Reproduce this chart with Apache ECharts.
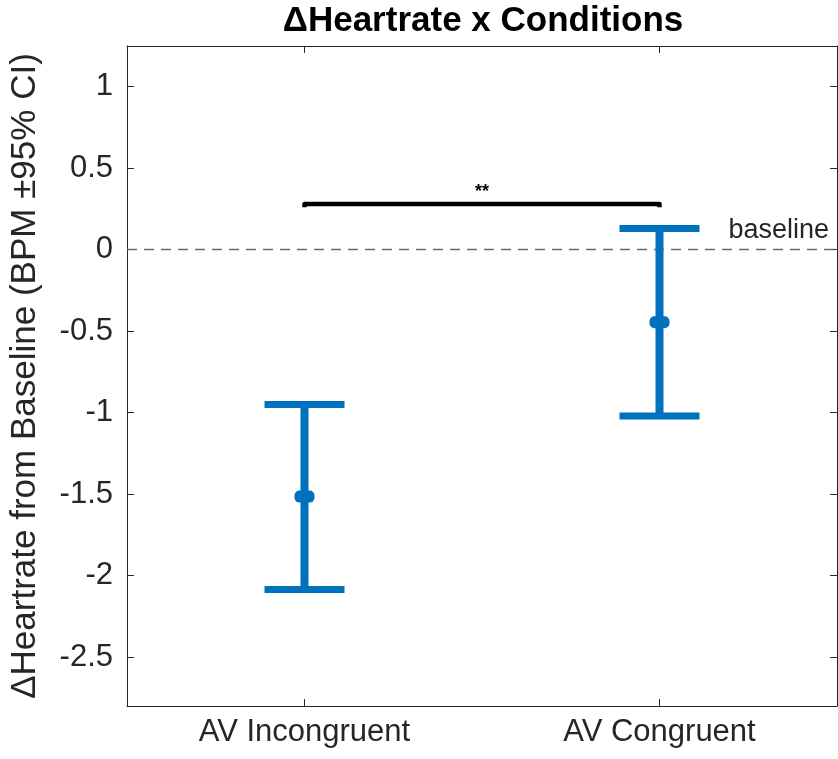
<!DOCTYPE html>
<html>
<head>
<meta charset="utf-8">
<script src="https://cdn.jsdelivr.net/npm/echarts@6/dist/echarts.min.js"></script>
<style>
html,body{margin:0;padding:0;background:#fff;}
#chart{width:838px;height:759px;}
</style>
</head>
<body>
<div id="chart"></div>
<script>
const categories = ['AV Incongruent', 'AV Congruent'];
const means = [-1.515, -0.445];
const lowerCI = [-2.085, -1.02];
const upperCI = [-0.95, 0.13];
const yTicks = [-2.5, -2, -1.5, -1, -0.5, 0, 0.5, 1];
const bracket = [[0, 1, 0.28, 0.26]];
const sigLabel = '**';
const baselineValue = 0;

const blue = '#0072BD';
const axisColor = '#262626';
const fontFam = 'Liberation Sans, Arial, Helvetica, sans-serif';

const ebData = categories.map((c, i) => [i, lowerCI[i], upperCI[i], means[i]]);

const chart = echarts.init(document.getElementById('chart'), null, {renderer: 'canvas'});

const yCommon = {
  type: 'value', min: -2.8, max: 1.25,
  splitLine: {show: false},
  axisLine: {show: true, onZero: false, lineStyle: {color: axisColor, width: 1}}
};

chart.setOption({
  backgroundColor: '#fff',
  animation: false,
  graphic: [{
    type: 'text', x: 483, y: 4,
    style: {text: '\u0394Heartrate x Conditions', font: 'bold 35px ' + fontFam, fill: '#000', textAlign: 'center', textVerticalAlign: 'top'}
  }],
  grid: {left: 127, right: 1, top: 46, bottom: 53, outerBoundsMode: 'none', containLabel: false},
  xAxis: [{
    type: 'category', data: categories, boundaryGap: true,
    axisLine: {show: true, onZero: false, lineStyle: {color: axisColor, width: 1}},
    axisTick: {show: true, inside: true, alignWithLabel: true, length: 7, lineStyle: {color: axisColor}},
    axisLabel: {fontSize: 31, color: axisColor, fontFamily: fontFam, margin: 11}
  }, {
    type: 'category', data: categories, boundaryGap: true, position: 'top',
    axisLine: {show: true, onZero: false, lineStyle: {color: axisColor, width: 1}},
    axisTick: {show: true, inside: true, alignWithLabel: true, length: 7, lineStyle: {color: axisColor}},
    axisLabel: {show: false}
  }],
  yAxis: [Object.assign({}, yCommon, {
    position: 'left',
    name: '\u0394Heartrate from Baseline (BPM \u00b195% CI)',
    nameLocation: 'middle', nameRotate: 90, nameGap: 84,
    nameTextStyle: {fontSize: 35, color: axisColor, fontFamily: fontFam},
    axisTick: {show: true, inside: true, length: 7, customValues: yTicks, lineStyle: {color: axisColor}},
    axisLabel: {fontSize: 31, color: axisColor, fontFamily: fontFam, margin: 14, customValues: yTicks}
  }), Object.assign({}, yCommon, {
    position: 'right',
    axisTick: {show: true, inside: true, length: 7, customValues: yTicks, lineStyle: {color: axisColor}},
    axisLabel: {show: false, customValues: yTicks}
  })],
  series: [{
    type: 'custom',
    name: 'CI',
    xAxisIndex: 0, yAxisIndex: 0,
    data: ebData,
    encode: {x: 0, y: [1, 2, 3]},
    z: 5,
    renderItem: function (params, api) {
      const x = api.value(0);
      const pLow = api.coord([x, api.value(1)]);
      const pHigh = api.coord([x, api.value(2)]);
      const pMean = api.coord([x, api.value(3)]);
      const hw = 40;
      return {
        type: 'group',
        children: [
          {type: 'line', shape: {x1: pLow[0], y1: pLow[1], x2: pHigh[0], y2: pHigh[1]}, style: {stroke: blue, lineWidth: 8}},
          {type: 'line', shape: {x1: pLow[0] - hw, y1: pLow[1], x2: pLow[0] + hw, y2: pLow[1]}, style: {stroke: blue, lineWidth: 7}},
          {type: 'line', shape: {x1: pHigh[0] - hw, y1: pHigh[1], x2: pHigh[0] + hw, y2: pHigh[1]}, style: {stroke: blue, lineWidth: 7}},
          {type: 'rect', shape: {x: pMean[0] - 10, y: pMean[1] - 6, width: 20, height: 12, r: 5}, style: {fill: blue}}
        ]
      };
    },
    markLine: {
      silent: true, symbol: 'none', z: 1,
      lineStyle: {color: '#6a6a6a', type: [10, 7], width: 1.3},
      label: {show: true, position: 'insideEndTop', formatter: 'baseline', fontSize: 27, color: axisColor, fontFamily: fontFam, distance: [8, 6]},
      data: [{yAxis: baselineValue}]
    }
  }, {
    type: 'custom',
    name: 'sig',
    xAxisIndex: 0, yAxisIndex: 0,
    data: bracket,
    encode: {x: [0, 1], y: [2, 3]},
    z: 6,
    renderItem: function (params, api) {
      const a = api.coord([api.value(0), api.value(2)]);
      const b = api.coord([api.value(1), api.value(2)]);
      const aEnd = api.coord([api.value(0), api.value(3)]);
      return {
        type: 'group',
        children: [
          {type: 'polyline', shape: {points: [[a[0], aEnd[1]], a, b, [b[0], aEnd[1]]]}, style: {stroke: '#000', lineWidth: 4.5, fill: null, lineJoin: 'round'}},
          {type: 'text', x: (a[0] + b[0]) / 2, y: a[1] - 3, style: {text: sigLabel, font: 'bold 18px ' + fontFam, fill: '#000', textAlign: 'center', textVerticalAlign: 'bottom'}}
        ]
      };
    }
  }]
});
</script>
</body>
</html>
